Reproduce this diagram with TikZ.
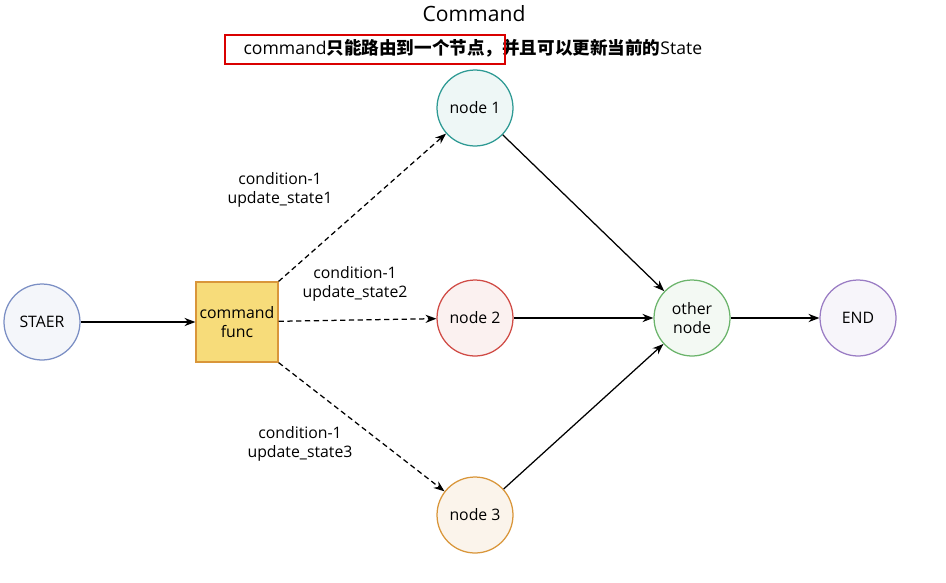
\documentclass[tikz,border=0pt]{standalone}
\usepackage{fontspec}
\setmainfont{Open Sans}
\newfontfamily\cjk{Noto Sans CJK SC}
\usetikzlibrary{arrows.meta}
\usetikzlibrary{positioning}
\definecolor{cblue}{HTML}{7B8FC4}
\definecolor{cteal}{HTML}{2E9A94}
\definecolor{cred}{HTML}{D04B45}
\definecolor{corange}{HTML}{D9963A}
\definecolor{cgreen}{HTML}{6BB46B}
\definecolor{cpurple}{HTML}{9A7CC4}
\definecolor{cyel}{HTML}{F7DC7A}
\begin{document}
\begin{tikzpicture}[x=0.02cm,y=-0.02cm,
	line width=0.25mm,
	state/.style={circle, draw, minimum size=1.52cm, font=\small, align=center, inner sep=0pt},
	arrow/.style={-Stealth},
	darrow/.style={-Stealth, densely dashed},
	lbl/.style={font=\small, align=center},
]
	\useasboundingbox (0,0) rectangle (946,582);
	\node (title) at (474,14) {\large Command};
	\node (sub) [anchor=west, inner sep=0pt] at (243,48) {command\cjk\bfseries 只能路由到一个节点，并且可以更新当前的\normalfont\rmfamily State};
	\draw[red!85!black, line width=0.4mm] (225,35) rectangle (505,64);

	\node (start) [state, draw=cblue, fill=cblue!8] at (42,322) {STAER};
	\node (cmd) [draw=corange, fill=cyel, minimum width=1.64cm, minimum height=1.6cm, align=center, inner sep=0pt, font=\small] at (237,322) {command\\func};
	\node (n1) [state, draw=cteal, fill=cteal!8] at (475,108) {node 1};
	\node (n2) [state, draw=cred, fill=cred!8] at (475,318) {node 2};
	\node (n3) [state, draw=corange, fill=corange!10] at (475,515) {node 3};
	\node (oth) [state, draw=cgreen, fill=cgreen!8] at (692,318) {other\\node};
	\node (end) [state, draw=cpurple, fill=cpurple!8] at (858,318) {END};

	\node (l1) [lbl] at (280,190) {condition-1\\update\_state1};
	\node (l2) [lbl] at (355,284) {condition-1\\update\_state2};
	\node (l3) [lbl] at (300,444) {condition-1\\update\_state3};

	\draw[arrow] (start) -- (cmd);
	\draw[darrow] (cmd.north east) -- (n1);
	\draw[darrow] (cmd) -- (n2);
	\draw[darrow] (cmd.south east) -- (n3);
	\draw[arrow] (n1) -- (oth);
	\draw[arrow] (n2) -- (oth);
	\draw[arrow] (n3) -- (oth);
	\draw[arrow] (oth) -- (end);
\end{tikzpicture}
\end{document}
